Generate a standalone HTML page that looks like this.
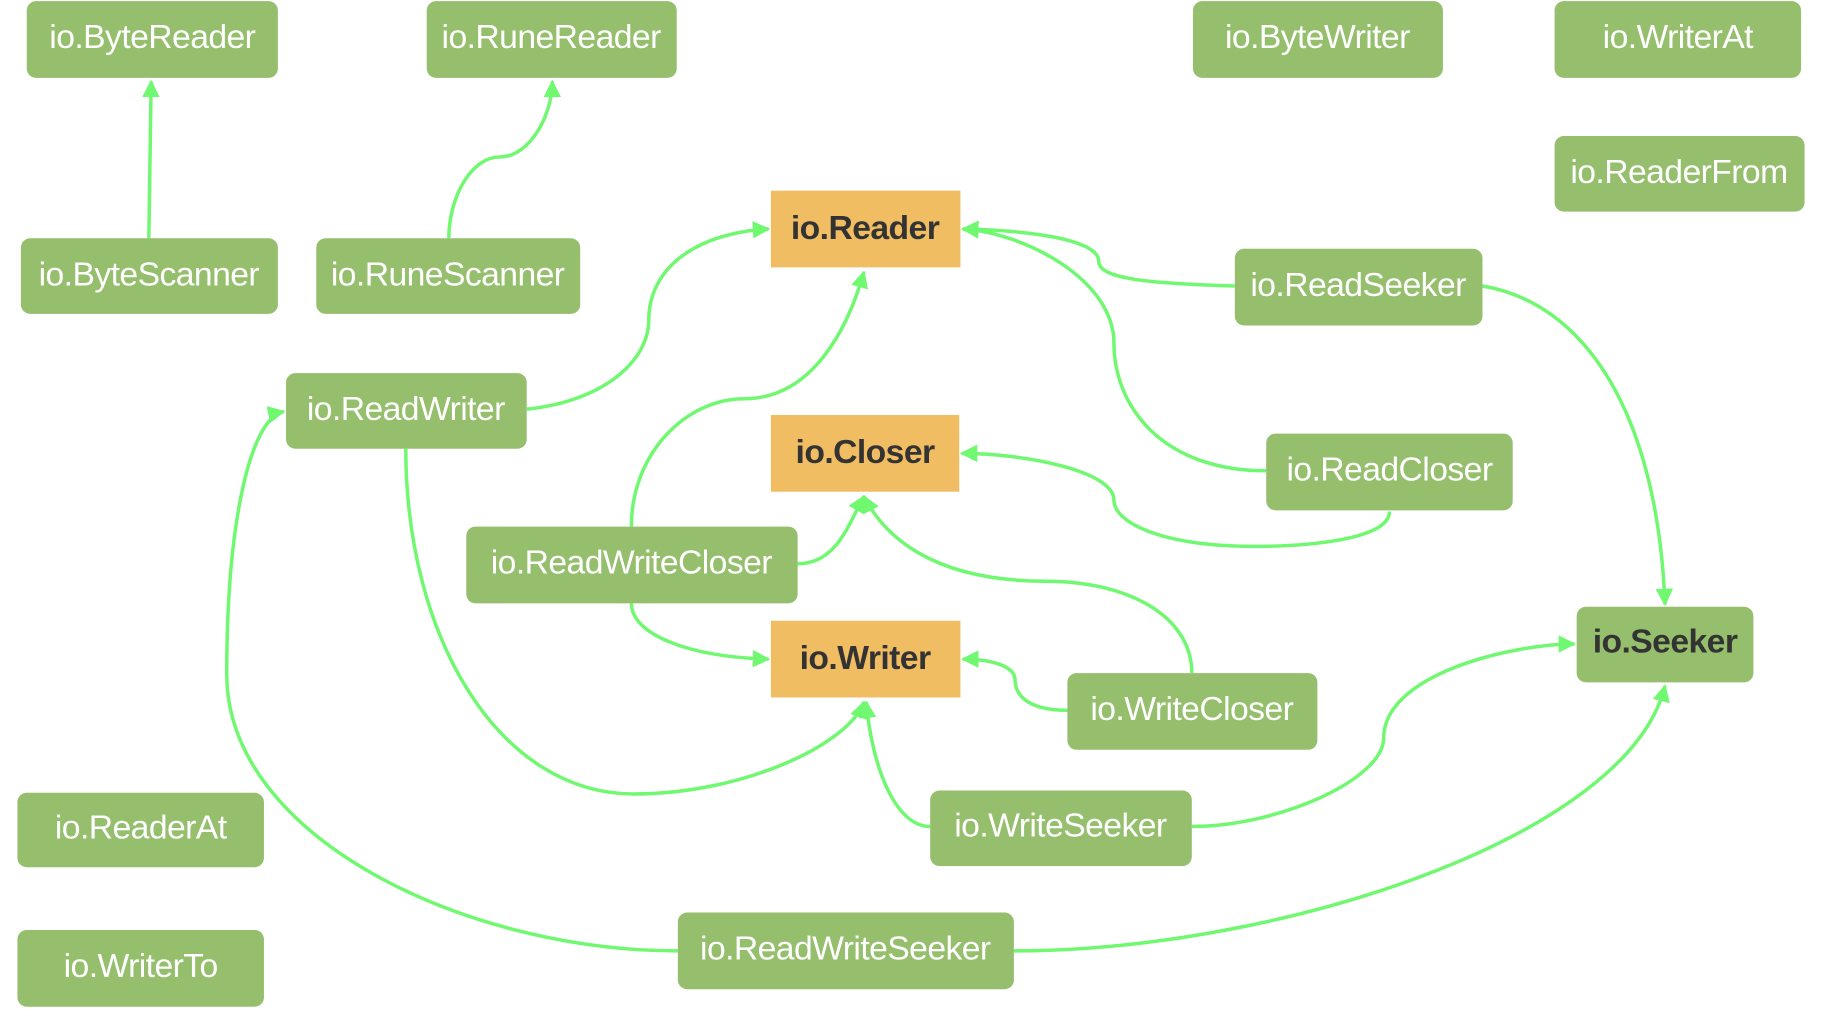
<!DOCTYPE html>
<html><head><meta charset="utf-8"><style>
html,body{margin:0;padding:0;background:#fff;width:1822px;height:1016px;overflow:hidden}
svg{display:block}
.g{fill:#95bf6c}
.o{fill:#f1bd62}
.t{font-family:"Liberation Sans",sans-serif;font-size:29px;fill:#fff;text-anchor:middle;dominant-baseline:central;letter-spacing:-0.5px}
.d{fill:#333;font-weight:bold}
path.e{fill:none;stroke:#6ff870;stroke-width:3}
</style></head><body>
<svg width="1822" height="1016" viewBox="0 0 1567 874" preserveAspectRatio="none" xmlns="http://www.w3.org/2000/svg">
<defs><marker id="a" viewBox="0 0 10 10" refX="9" refY="5" markerWidth="5" markerHeight="5" orient="auto" markerUnits="strokeWidth"><path d="M0,0 L10,5 L0,10 z" fill="#6ff870"/></marker></defs>
<g marker-end="url(#a)">
<path class="e" d="M128,205 L130,70"/>
<path class="e" d="M386,205 C386,170 405,135 430,135 C455,135 475,100 475,70"/>
<path class="e" d="M453,352 C520,345 558,310 558,275 C558,230 600,200 661,197"/>
<path class="e" d="M543,453 C543,390 590,343 640,343 C700,343 730,280 743,234"/>
<path class="e" d="M1062,246 C990,244 945,240 945,225 C945,205 880,198 828,197"/>
<path class="e" d="M1089,405 C1000,405 958,350 958,295 C958,240 880,200 828,197"/>
<path class="e" d="M1195,440 C1195,465 1120,470 1080,470 C1000,470 958,450 958,430 C958,405 880,390 827,390"/>
<path class="e" d="M686,485 C720,485 730,450 743,427"/>
<path class="e" d="M1025,579 C1025,530 970,500 900,500 C800,500 760,460 743,427"/>
<path class="e" d="M543,519 C543,545 590,565 661,567"/>
<path class="e" d="M918,611 C880,611 873,595 873,585 C873,572 850,567 828,567"/>
<path class="e" d="M349,386 C349,550 430,683 545,683 C640,683 730,640 743,604"/>
<path class="e" d="M800,711 C770,711 750,660 745,604"/>
<path class="e" d="M1025,711 C1100,711 1190,670 1190,635 C1190,580 1300,554 1354,554"/>
<path class="e" d="M1275,246 C1360,260 1425,350 1432,520"/>
<path class="e" d="M872,818 C1100,818 1400,720 1432,590"/>
<path class="e" d="M583,818 C400,818 195,720 195,580 C195,450 215,360 244,354"/>
</g>
<rect class="g" x="23" y="1" width="216" height="66" rx="8"/><text class="t" x="131" y="32">io.ByteReader</text>
<rect class="g" x="367" y="1" width="215" height="66" rx="8"/><text class="t" x="474" y="32">io.RuneReader</text>
<rect class="g" x="1026" y="1" width="215" height="66" rx="8"/><text class="t" x="1133" y="32">io.ByteWriter</text>
<rect class="g" x="1337" y="1" width="212" height="66" rx="8"/><text class="t" x="1443" y="32">io.WriterAt</text>
<rect class="g" x="1337" y="117" width="215" height="65" rx="8"/><text class="t" x="1444" y="148">io.ReaderFrom</text>
<rect class="o" x="663" y="164" width="163" height="66"/><text class="t d" x="744" y="196">io.Reader</text>
<rect class="g" x="18" y="205" width="221" height="65" rx="8"/><text class="t" x="128" y="236">io.ByteScanner</text>
<rect class="g" x="272" y="205" width="227" height="65" rx="8"/><text class="t" x="385" y="236">io.RuneScanner</text>
<rect class="g" x="1062" y="214" width="213" height="66" rx="8"/><text class="t" x="1168" y="245">io.ReadSeeker</text>
<rect class="g" x="246" y="321" width="207" height="65" rx="8"/><text class="t" x="349" y="352">io.ReadWriter</text>
<rect class="o" x="663" y="357" width="162" height="66"/><text class="t d" x="744" y="389">io.Closer</text>
<rect class="g" x="1089" y="373" width="212" height="66" rx="8"/><text class="t" x="1195" y="404">io.ReadCloser</text>
<rect class="g" x="401" y="453" width="285" height="66" rx="8"/><text class="t" x="543" y="484">io.ReadWriteCloser</text>
<rect class="g" x="1356" y="522" width="152" height="65" rx="8"/><text class="t d" x="1432" y="552" style="fill:#333">io.Seeker</text>
<rect class="o" x="663" y="534" width="163" height="66"/><text class="t d" x="744" y="566">io.Writer</text>
<rect class="g" x="918" y="579" width="215" height="66" rx="8"/><text class="t" x="1025" y="610">io.WriteCloser</text>
<rect class="g" x="15" y="682" width="212" height="64" rx="8"/><text class="t" x="121" y="712">io.ReaderAt</text>
<rect class="g" x="800" y="680" width="225" height="65" rx="8"/><text class="t" x="912" y="710">io.WriteSeeker</text>
<rect class="g" x="15" y="800" width="212" height="66" rx="8"/><text class="t" x="121" y="831">io.WriterTo</text>
<rect class="g" x="583" y="785" width="289" height="66" rx="8"/><text class="t" x="727" y="816">io.ReadWriteSeeker</text>
</svg>
</body></html>
